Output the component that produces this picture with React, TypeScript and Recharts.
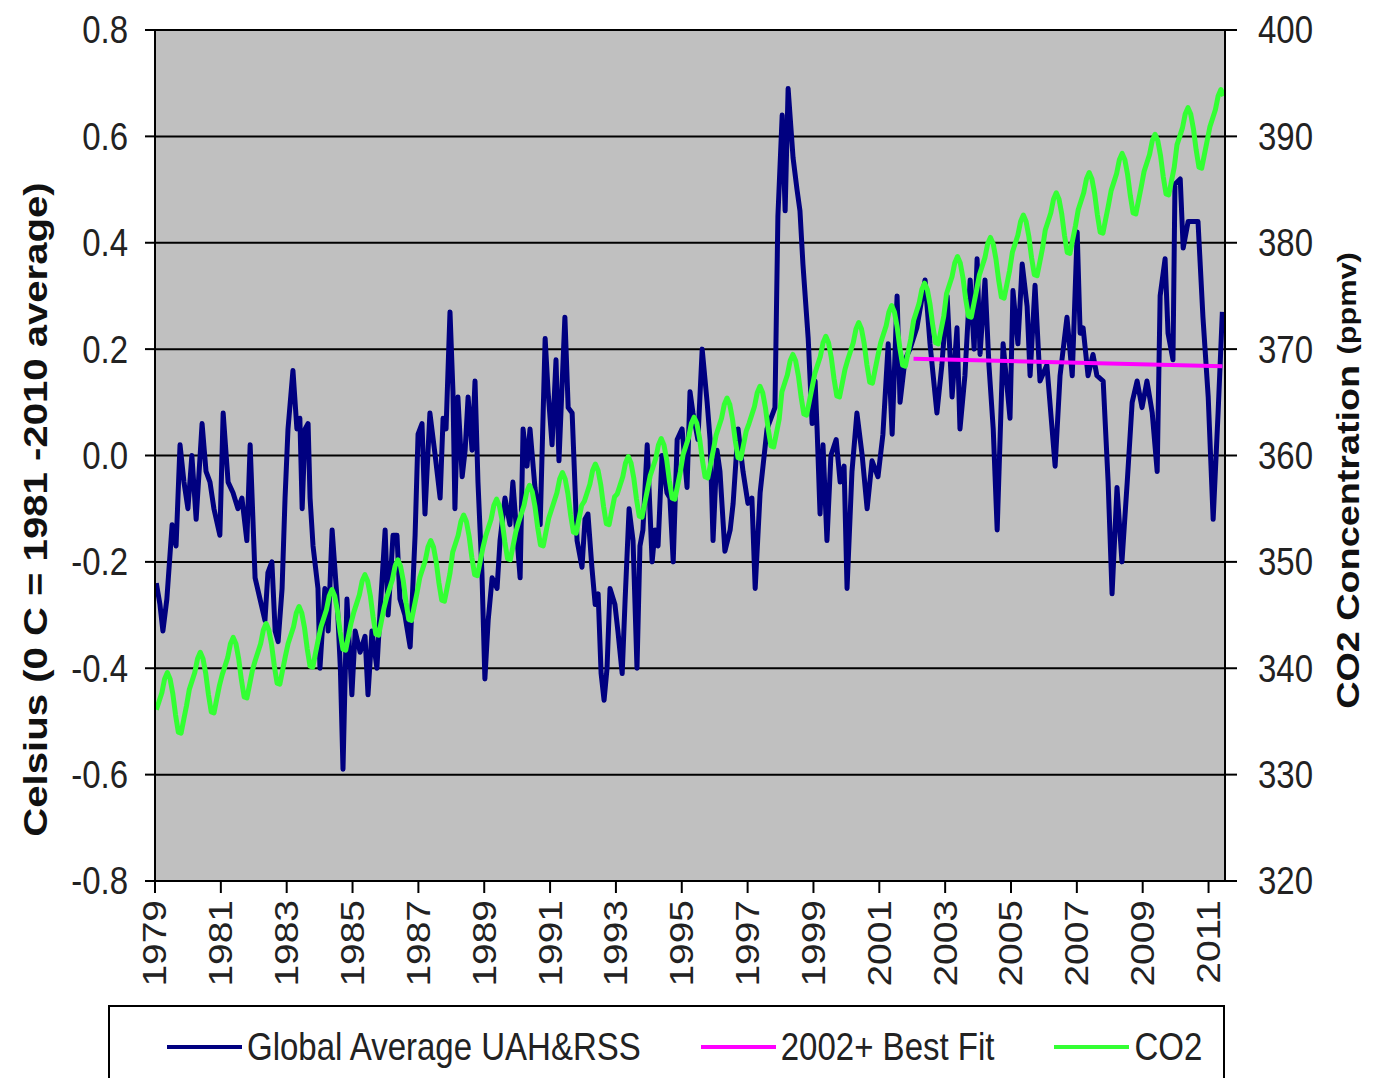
import React from 'react';
import { LineChart, Line, XAxis, YAxis, CartesianGrid } from 'recharts';

// monthly satellite anomalies (decimal year / deg C)
const tempYears = [
  1979.04, 1979.15, 1979.24, 1979.36, 1979.52, 1979.64, 1979.76, 1979.88, 1980.0, 1980.12, 1980.25, 1980.43,
  1980.55, 1980.67, 1980.79, 1980.97, 1981.07, 1981.22, 1981.37, 1981.52, 1981.64, 1981.79, 1981.89, 1982.04,
  1982.19, 1982.34, 1982.43, 1982.55, 1982.65, 1982.74, 1982.86, 1982.95, 1983.04, 1983.19, 1983.31, 1983.4,
  1983.47, 1983.56, 1983.65, 1983.71, 1983.8, 1983.95, 1984.01, 1984.16, 1984.26, 1984.38, 1984.53, 1984.63,
  1984.71, 1984.83, 1984.98, 1985.08, 1985.23, 1985.38, 1985.47, 1985.59, 1985.74, 1985.83, 1985.99, 1986.08,
  1986.23, 1986.35, 1986.44, 1986.59, 1986.75, 1986.9, 1986.99, 1987.11, 1987.2, 1987.35, 1987.51, 1987.66,
  1987.75, 1987.84, 1987.96, 1988.05, 1988.11, 1988.2, 1988.33, 1988.42, 1988.51, 1988.63, 1988.72, 1988.81,
  1988.93, 1989.02, 1989.12, 1989.24, 1989.39, 1989.48, 1989.63, 1989.78, 1989.87, 1989.99, 1990.09, 1990.18,
  1990.3, 1990.39, 1990.54, 1990.7, 1990.85, 1990.94, 1991.06, 1991.18, 1991.27, 1991.45, 1991.55, 1991.67,
  1991.82, 1991.97, 1992.06, 1992.15, 1992.27, 1992.37, 1992.46, 1992.55, 1992.64, 1992.73, 1992.82, 1992.97,
  1993.06, 1993.19, 1993.28, 1993.4, 1993.52, 1993.64, 1993.73, 1993.82, 1993.95, 1994.1, 1994.19, 1994.28,
  1994.4, 1994.55, 1994.64, 1994.74, 1994.86, 1995.01, 1995.16, 1995.25, 1995.34, 1995.49, 1995.62, 1995.77,
  1995.86, 1995.95, 1996.07, 1996.16, 1996.31, 1996.47, 1996.56, 1996.71, 1996.86, 1997.01, 1997.13, 1997.23,
  1997.38, 1997.59, 1997.83, 1997.92, 1998.05, 1998.14, 1998.23, 1998.38, 1998.5, 1998.59, 1998.68, 1998.84,
  1998.96, 1999.05, 1999.11, 1999.2, 1999.29, 1999.41, 1999.53, 1999.69, 1999.81, 1999.93, 2000.02, 2000.17,
  2000.32, 2000.48, 2000.63, 2000.78, 2000.96, 2001.11, 2001.27, 2001.39, 2001.54, 2001.63, 2001.78, 2001.93,
  2002.14, 2002.39, 2002.54, 2002.75, 2002.9, 2003.06, 2003.21, 2003.36, 2003.45, 2003.6, 2003.76, 2003.88,
  2003.97, 2004.06, 2004.21, 2004.33, 2004.46, 2004.58, 2004.76, 2004.97, 2005.06, 2005.21, 2005.34, 2005.49,
  2005.58, 2005.73, 2005.88, 2006.09, 2006.34, 2006.49, 2006.7, 2006.86, 2007.01, 2007.1, 2007.19, 2007.34,
  2007.49, 2007.61, 2007.8, 2007.95, 2008.07, 2008.22, 2008.37, 2008.53, 2008.68, 2008.83, 2008.98, 2009.13,
  2009.29, 2009.44, 2009.53, 2009.68, 2009.77, 2009.92, 2009.98, 2010.14, 2010.23, 2010.38, 2010.53, 2010.68,
  2010.83, 2010.99, 2011.14, 2011.29, 2011.42,
];
const tempValues = [
  -0.24, -0.28, -0.33, -0.27, -0.13, -0.17, 0.02, -0.05, -0.1, 0.0, -0.12, 0.06,
  -0.03, -0.05, -0.1, -0.15, 0.08, -0.05, -0.07, -0.1, -0.08, -0.16, 0.02, -0.23,
  -0.27, -0.31, -0.22, -0.2, -0.33, -0.35, -0.25, -0.08, 0.05, 0.16, 0.05, 0.07,
  -0.1, 0.05, 0.06, -0.08, -0.17, -0.25, -0.4, -0.25, -0.33, -0.14, -0.27, -0.4,
  -0.59, -0.27, -0.45, -0.33, -0.37, -0.34, -0.45, -0.33, -0.4, -0.3, -0.14, -0.3,
  -0.15, -0.15, -0.27, -0.3, -0.36, -0.15, 0.04, 0.06, -0.11, 0.08, 0.0, -0.08,
  0.07, 0.05, 0.27, 0.12, -0.1, 0.11, -0.04, 0.01, 0.11, 0.01, 0.14, -0.05,
  -0.22, -0.42, -0.31, -0.23, -0.25, -0.16, -0.08, -0.13, -0.05, -0.15, -0.23, 0.05,
  -0.02, 0.05, -0.06, -0.13, 0.22, 0.12, 0.02, 0.18, -0.01, 0.26, 0.09, 0.08,
  -0.16, -0.21, -0.12, -0.11, -0.21, -0.28, -0.26, -0.41, -0.46, -0.4, -0.25, -0.28,
  -0.33, -0.41, -0.27, -0.1, -0.16, -0.4, -0.17, -0.14, 0.02, -0.2, -0.14, -0.17,
  0.0, -0.07, -0.08, -0.2, 0.03, 0.05, -0.06, 0.12, 0.08, 0.03, 0.2, 0.1,
  0.03, -0.16, 0.01, -0.03, -0.18, -0.14, -0.09, 0.05, -0.03, -0.09, -0.08, -0.25,
  -0.07, 0.05, 0.09, 0.45, 0.64, 0.46, 0.69, 0.56, 0.5, 0.46, 0.36, 0.22,
  0.06, 0.14, 0.05, -0.11, 0.02, -0.16, 0.0, 0.03, -0.05, -0.02, -0.25, -0.03,
  0.08, 0.0, -0.1, -0.01, -0.04, 0.04, 0.21, 0.04, 0.3, 0.1, 0.18, 0.2,
  0.24, 0.33, 0.21, 0.08, 0.17, 0.3, 0.11, 0.24, 0.05, 0.15, 0.33, 0.2,
  0.37, 0.19, 0.33, 0.17, 0.05, -0.14, 0.21, 0.07, 0.31, 0.21, 0.36, 0.28,
  0.15, 0.32, 0.14, 0.17, -0.02, 0.15, 0.26, 0.15, 0.42, 0.23, 0.24, 0.15,
  0.19, 0.15, 0.14, -0.05, -0.26, -0.06, -0.2, -0.05, 0.1, 0.14, 0.09, 0.14,
  0.08, -0.03, 0.3, 0.37, 0.23, 0.18, 0.51, 0.52, 0.39, 0.44, 0.44, 0.44,
  0.26, 0.11, -0.12, 0.08, 0.27,
];

// 2002+ linear fit (two ends)
const fitYears = [2002.04, 2011.42];
const fitValues = [0.182, 0.168];

// monthly CO2, Jan 1979 .. Jun 2011 (ppmv)
const co2Values = [
  336.1, 336.9, 337.7, 339.0, 339.6, 339.0, 337.6, 335.6, 334.0, 333.9, 335.2, 336.5,
  338.0, 338.8, 339.6, 340.9, 341.5, 340.9, 339.5, 337.5, 335.9, 335.8, 337.1, 338.4,
  339.4, 340.2, 341.0, 342.3, 342.9, 342.3, 340.9, 338.9, 337.3, 337.2, 338.5, 339.8,
  340.7, 341.5, 342.3, 343.6, 344.2, 343.6, 342.2, 340.2, 338.6, 338.5, 339.8, 341.1,
  342.3, 343.1, 343.9, 345.2, 345.8, 345.2, 343.8, 341.8, 340.2, 340.1, 341.4, 342.7,
  343.9, 344.7, 345.5, 346.8, 347.4, 346.8, 345.4, 343.4, 341.8, 341.7, 343.0, 344.3,
  345.3, 346.1, 346.9, 348.2, 348.8, 348.2, 346.8, 344.8, 343.2, 343.1, 344.4, 345.7,
  346.7, 347.5, 348.3, 349.6, 350.2, 349.6, 348.2, 346.2, 344.6, 344.5, 345.8, 347.1,
  348.5, 349.3, 350.1, 351.4, 352.0, 351.4, 350.0, 348.0, 346.4, 346.3, 347.6, 348.9,
  350.9, 351.7, 352.5, 353.8, 354.4, 353.8, 352.4, 350.4, 348.8, 348.7, 350.0, 351.3,
  352.4, 353.2, 354.0, 355.3, 355.9, 355.3, 353.9, 351.9, 350.3, 350.2, 351.5, 352.8,
  353.7, 354.5, 355.3, 356.6, 357.2, 356.6, 355.2, 353.2, 351.6, 351.5, 352.8, 354.1,
  354.9, 355.7, 356.5, 357.8, 358.4, 357.8, 356.4, 354.4, 352.8, 352.7, 354.0, 355.3,
  355.7, 356.5, 357.3, 358.6, 359.2, 358.6, 357.2, 355.2, 353.6, 353.5, 354.8, 356.1,
  356.4, 357.2, 358.0, 359.3, 359.9, 359.3, 357.9, 355.9, 354.3, 354.2, 355.5, 356.8,
  358.1, 358.9, 359.7, 361.0, 361.6, 361.0, 359.6, 357.6, 356.0, 355.9, 357.2, 358.5,
  360.1, 360.9, 361.7, 363.0, 363.6, 363.0, 361.6, 359.6, 358.0, 357.9, 359.2, 360.5,
  361.9, 362.7, 363.5, 364.8, 365.4, 364.8, 363.4, 361.4, 359.8, 359.7, 361.0, 362.3,
  363.0, 363.8, 364.6, 365.9, 366.5, 365.9, 364.5, 362.5, 360.9, 360.8, 362.1, 363.4,
  366.0, 366.8, 367.6, 368.9, 369.5, 368.9, 367.5, 365.5, 363.9, 363.8, 365.1, 366.4,
  367.7, 368.5, 369.3, 370.6, 371.2, 370.6, 369.2, 367.2, 365.6, 365.5, 366.8, 368.1,
  369.0, 369.8, 370.6, 371.9, 372.5, 371.9, 370.5, 368.5, 366.9, 366.8, 368.1, 369.4,
  370.6, 371.4, 372.2, 373.5, 374.1, 373.5, 372.1, 370.1, 368.5, 368.4, 369.7, 371.0,
  372.7, 373.5, 374.3, 375.6, 376.2, 375.6, 374.2, 372.2, 370.6, 370.5, 371.8, 373.1,
  375.2, 376.0, 376.8, 378.1, 378.7, 378.1, 376.7, 374.7, 373.1, 373.0, 374.3, 375.6,
  377.0, 377.8, 378.6, 379.9, 380.5, 379.9, 378.5, 376.5, 374.9, 374.8, 376.1, 377.4,
  379.1, 379.9, 380.7, 382.0, 382.6, 382.0, 380.6, 378.6, 377.0, 376.9, 378.2, 379.5,
  381.2, 382.0, 382.8, 384.1, 384.7, 384.1, 382.7, 380.7, 379.1, 379.0, 380.3, 381.6,
  383.1, 383.9, 384.7, 386.0, 386.6, 386.0, 384.6, 382.6, 381.0, 380.9, 382.2, 383.5,
  384.9, 385.7, 386.5, 387.8, 388.4, 387.8, 386.4, 384.4, 382.8, 382.7, 384.0, 385.3,
  386.7, 387.5, 388.3, 389.6, 390.2, 389.6, 388.2, 386.2, 384.6, 384.5, 385.8, 387.1,
  389.2, 390.0, 390.8, 392.1, 392.7, 392.1, 390.7, 388.7, 387.1, 387.0, 388.3, 389.6,
  390.9, 391.7, 392.5, 393.8, 394.4, 393.8,
];

const yearTicks = [1979, 1981, 1983, 1985, 1987, 1989, 1991, 1993, 1995, 1997, 1999, 2001, 2003, 2005, 2007, 2009, 2011];
const celsiusTicks = [-0.8, -0.6, -0.4, -0.2, 0.0, 0.2, 0.4, 0.6, 0.8];
const co2Ticks = [320, 330, 340, 350, 360, 370, 380, 390, 400];

const tempData = tempYears.map((x, i) => ({ x, t: tempValues[i] }));
const fitData = fitYears.map((x, i) => ({ x, fit: fitValues[i] }));
const co2Data = co2Values.map((v, i) => ({ x: 1979 + (i + 0.5) / 12, co2: v }));

const FONT = 'Arial, "Liberation Sans", sans-serif';
const STRETCH = 1.18; // the source picture is taller than it is wide
const TEXT = '#222';

const LeftTick = ({ x, y, payload }: any) => (
  <g transform={`translate(${x},${y}) scale(1,${STRETCH})`}>
    <text textAnchor="end" dominantBaseline="central" fontSize={33} fontFamily={FONT} fill={TEXT}>
      {Number(payload.value).toFixed(1)}
    </text>
  </g>
);

const RightTick = ({ x, y, payload }: any) => (
  <g transform={`translate(${x},${y}) scale(1,${STRETCH})`}>
    <text textAnchor="start" dominantBaseline="central" fontSize={33} fontFamily={FONT} fill={TEXT}>
      {payload.value}
    </text>
  </g>
);

const YearTick = ({ x, y, payload }: any) => (
  <g transform={`translate(${x},${y}) rotate(-90) scale(${STRETCH},1)`}>
    <text textAnchor="end" dominantBaseline="central" fontSize={33} fontFamily={FONT} fill={TEXT}>
      {payload.value}
    </text>
  </g>
);

const LeftTitle = ({ viewBox }: any) => {
  const cx = viewBox.x + 27;
  const cy = viewBox.y + viewBox.height / 2 + 54;
  return (
    <g transform={`translate(${cx},${cy}) rotate(-90) scale(${STRETCH},1)`}>
      <text textAnchor="middle" dominantBaseline="central" fontSize={34} fontWeight="bold" fontFamily={FONT} fill="#111">
        Celsius (0 C = 1981 -2010 average)
      </text>
    </g>
  );
};

const RightTitle = ({ viewBox }: any) => {
  const cx = viewBox.x + 122;
  const cy = viewBox.y + viewBox.height / 2 + 25;
  return (
    <g transform={`translate(${cx},${cy}) rotate(-90) scale(${STRETCH},1)`}>
      <text textAnchor="middle" dominantBaseline="central" fontWeight="bold" fontFamily={FONT} fill="#111">
        <tspan fontSize={32}>CO2 Concentration </tspan>
        <tspan fontSize={26}>(ppmv)</tspan>
      </text>
    </g>
  );
};

const legendItems = [
  { label: 'Global Average UAH&RSS', color: '#000080' },
  { label: '2002+ Best Fit', color: '#ff00ff' },
  { label: 'CO2', color: '#33ff33' },
];

export default function App() {
  return (
    <div style={{ position: 'relative', width: 1357, height: 1070, background: '#fff' }}>
      <LineChart width={1357} height={1070} margin={{ top: 22, right: 0, bottom: 77, left: 0 }}>
        <CartesianGrid yAxisId="left" vertical={false} stroke="#000" strokeWidth={2} fill="#c0c0c0" fillOpacity={1} />
        <XAxis
          dataKey="x"
          type="number"
          domain={[1979, 2011.5]}
          ticks={yearTicks}
          allowDataOverflow
          height={120}
          tickSize={12}
          tickMargin={7}
          tick={<YearTick />}
          axisLine={{ stroke: '#000', strokeWidth: 2 }}
          tickLine={{ stroke: '#000', strokeWidth: 2 }}
        />
        <YAxis
          yAxisId="left"
          type="number"
          domain={[-0.8, 0.8]}
          ticks={celsiusTicks}
          width={147}
          tickSize={10}
          tickMargin={17}
          tick={<LeftTick />}
          axisLine={{ stroke: '#000', strokeWidth: 2 }}
          tickLine={{ stroke: '#000', strokeWidth: 2 }}
          label={LeftTitle}
        />
        <YAxis
          yAxisId="right"
          orientation="right"
          type="number"
          domain={[320, 400]}
          ticks={co2Ticks}
          width={140}
          tickSize={12}
          tickMargin={21}
          tick={<RightTick />}
          axisLine={{ stroke: '#000', strokeWidth: 2 }}
          tickLine={{ stroke: '#000', strokeWidth: 2 }}
          label={RightTitle}
        />
        <Line
          yAxisId="left"
          data={tempData}
          dataKey="t"
          type="linear"
          stroke="#000080"
          strokeWidth={5}
          strokeLinejoin="round"
          dot={false}
          isAnimationActive={false}
        />
        <Line
          yAxisId="left"
          data={fitData}
          dataKey="fit"
          type="linear"
          stroke="#ff00ff"
          strokeWidth={4}
          dot={false}
          isAnimationActive={false}
        />
        <Line
          yAxisId="right"
          data={co2Data}
          dataKey="co2"
          type="linear"
          stroke="#33ff33"
          strokeWidth={5}
          strokeLinejoin="round"
          dot={false}
          isAnimationActive={false}
        />
      </LineChart>
      <div
        style={{
          position: 'absolute',
          left: 100,
          top: 997,
          width: 1117,
          height: 84,
          border: '2px solid #000',
          background: '#fff',
          display: 'flex',
          alignItems: 'center',
          paddingLeft: 57,
          gap: 60,
          boxSizing: 'border-box',
          fontFamily: FONT,
          fontSize: 33,
          color: TEXT,
        }}
      >
        {legendItems.map((item) => (
          <div key={item.label} style={{ display: 'flex', alignItems: 'center', gap: 5 }}>
            <span style={{ display: 'inline-block', width: 75, height: 4, background: item.color }} />
            <span style={{ display: 'inline-block', transform: `scaleY(${STRETCH})`, whiteSpace: 'nowrap' }}>
              {item.label}
            </span>
          </div>
        ))}
      </div>
    </div>
  );
}
